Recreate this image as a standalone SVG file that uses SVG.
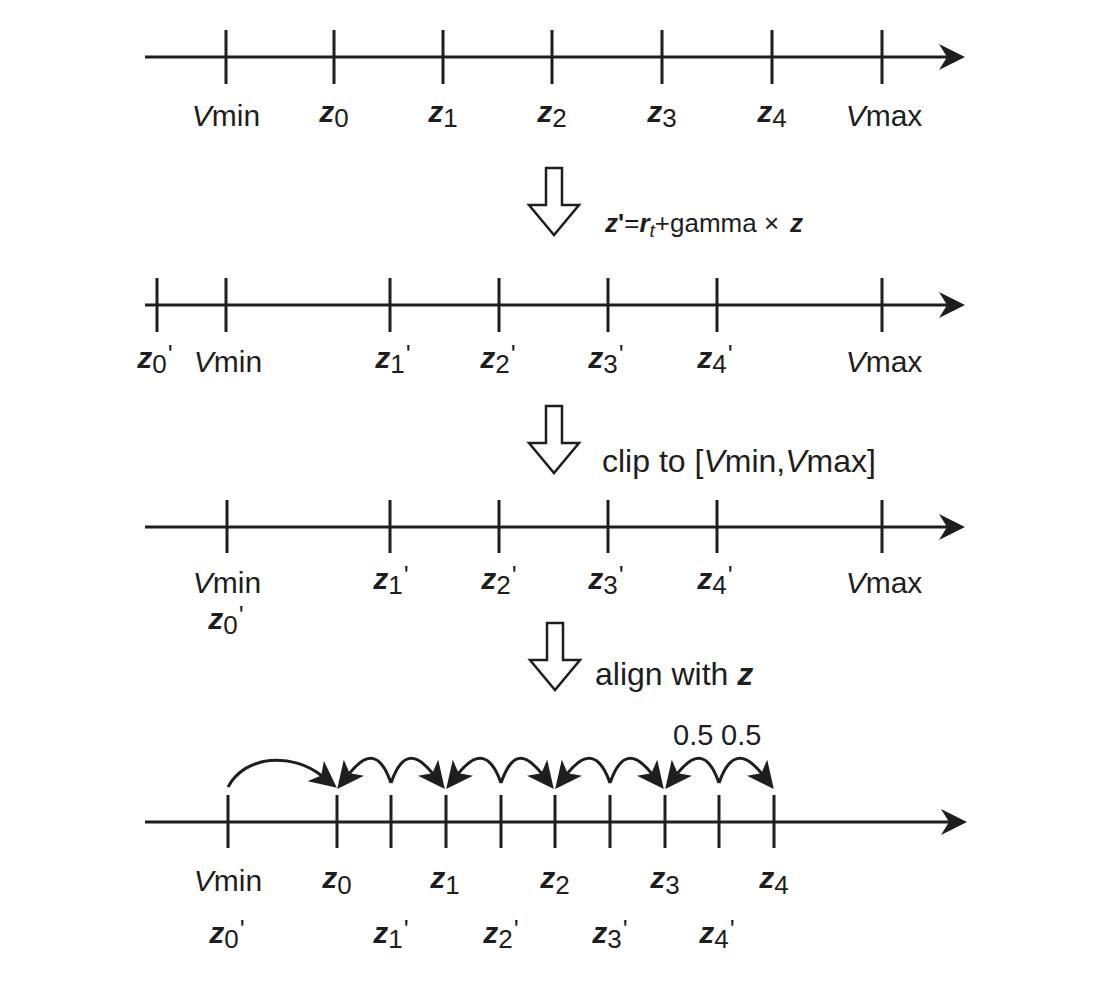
<svg xmlns="http://www.w3.org/2000/svg" width="1107" height="982" viewBox="0 0 1107 982">
<style>
.t{font-family:"Liberation Sans",Arial,Helvetica,sans-serif;fill:#1e1e1e}
.lb{font-size:30px}
.an{font-size:32px}
.zv{font-size:30px;font-weight:bold;font-style:italic}
.sb{font-size:26px}
.pr{font-size:26px}
.it{font-style:italic}
.ax{stroke:#1e1e1e;stroke-width:3;fill:none}
.tk{stroke:#1e1e1e;stroke-width:3}
.hol{fill:#fff;stroke:#1e1e1e;stroke-width:2.5;stroke-linejoin:miter}
.arc{fill:none;stroke:#1e1e1e;stroke-width:3}
</style>
<defs>
<marker id="axh" markerUnits="userSpaceOnUse" markerWidth="28" markerHeight="28" viewBox="0 0 28 28" refX="8" refY="14" orient="auto"><path d="M0,1 L26,14 L0,27 L8,14 Z" fill="#1e1e1e"/></marker>
<marker id="bh" markerUnits="userSpaceOnUse" markerWidth="28" markerHeight="26" viewBox="0 0 28 26" refX="8" refY="13" orient="auto"><path d="M0,0 L27,13 L0,26 L7,13 Z" fill="#1e1e1e"/></marker>
<path id="hollow" d="M-8,0 H8 V37 H25 L0,67 L-25,37 H-8 Z"/>
</defs>
<rect width="1107" height="982" fill="#fff"/>

<g id="axis1">
<line class="ax" x1="145" y1="57" x2="947" y2="57" marker-end="url(#axh)"/>
<path class="tk" d="M226,30V84M334,30V84M443,30V84M552,30V84M662,30V84M772,30V84M882,30V84"/>
<text class="t lb" x="226" y="126" text-anchor="middle"><tspan class="it">V</tspan>min</text>
<text class="t lb" x="334" y="126" text-anchor="middle"><tspan class="zv" dy="-4">z</tspan><tspan class="sb" dy="5">0</tspan></text>
<text class="t lb" x="443" y="126" text-anchor="middle"><tspan class="zv" dy="-4">z</tspan><tspan class="sb" dy="5">1</tspan></text>
<text class="t lb" x="552" y="126" text-anchor="middle"><tspan class="zv" dy="-4">z</tspan><tspan class="sb" dy="5">2</tspan></text>
<text class="t lb" x="662" y="126" text-anchor="middle"><tspan class="zv" dy="-4">z</tspan><tspan class="sb" dy="5">3</tspan></text>
<text class="t lb" x="772" y="126" text-anchor="middle"><tspan class="zv" dy="-4">z</tspan><tspan class="sb" dy="5">4</tspan></text>
<text class="t lb" x="884" y="126" text-anchor="middle"><tspan class="it">V</tspan>max</text>
</g>

<g id="step1">
<use href="#hollow" class="hol" transform="translate(554,168)"/>
<text class="t" x="605" y="232" font-size="26"><tspan font-weight="bold" font-style="italic">z</tspan><tspan font-weight="bold">'</tspan>=<tspan font-weight="bold" font-style="italic">r</tspan><tspan font-style="italic" font-size="19" dy="5">t</tspan><tspan dy="-5">+gamma ×</tspan><tspan x="790" font-weight="bold" font-style="italic">z</tspan></text>
</g>

<g id="axis2">
<line class="ax" x1="145" y1="305" x2="947" y2="305" marker-end="url(#axh)"/>
<path class="tk" d="M157,278V332M226,278V332M390,278V332M499,278V332M608,278V332M717,278V332M882,278V332"/>
<text class="t lb" x="155" y="372" text-anchor="middle"><tspan class="zv" dy="-4">z</tspan><tspan class="sb" dy="5">0</tspan><tspan class="pr" dx="1" dy="-10">'</tspan></text>
<text class="t lb" x="228" y="372" text-anchor="middle"><tspan class="it">V</tspan>min</text>
<text class="t lb" x="393" y="372" text-anchor="middle"><tspan class="zv" dy="-4">z</tspan><tspan class="sb" dy="5">1</tspan><tspan class="pr" dx="1" dy="-10">'</tspan></text>
<text class="t lb" x="498" y="372" text-anchor="middle"><tspan class="zv" dy="-4">z</tspan><tspan class="sb" dy="5">2</tspan><tspan class="pr" dx="1" dy="-10">'</tspan></text>
<text class="t lb" x="606" y="372" text-anchor="middle"><tspan class="zv" dy="-4">z</tspan><tspan class="sb" dy="5">3</tspan><tspan class="pr" dx="1" dy="-10">'</tspan></text>
<text class="t lb" x="715" y="372" text-anchor="middle"><tspan class="zv" dy="-4">z</tspan><tspan class="sb" dy="5">4</tspan><tspan class="pr" dx="1" dy="-10">'</tspan></text>
<text class="t lb" x="884" y="372" text-anchor="middle"><tspan class="it">V</tspan>max</text>
</g>

<g id="step2">
<use href="#hollow" class="hol" transform="translate(554,406)"/>
<text class="t an" x="602" y="472">clip to [<tspan class="it">V</tspan>min,<tspan class="it">V</tspan>max]</text>
</g>

<g id="axis3">
<line class="ax" x1="145" y1="527" x2="947" y2="527" marker-end="url(#axh)"/>
<path class="tk" d="M227,500V553M390,500V553M499,500V553M608,500V553M717,500V553M882,500V553"/>
<text class="t lb" x="227" y="593" text-anchor="middle"><tspan class="it">V</tspan>min</text>
<text class="t lb" x="226" y="633" text-anchor="middle"><tspan class="zv" dy="-4">z</tspan><tspan class="sb" dy="5">0</tspan><tspan class="pr" dx="1" dy="-10">'</tspan></text>
<text class="t lb" x="391" y="593" text-anchor="middle"><tspan class="zv" dy="-4">z</tspan><tspan class="sb" dy="5">1</tspan><tspan class="pr" dx="1" dy="-10">'</tspan></text>
<text class="t lb" x="499" y="593" text-anchor="middle"><tspan class="zv" dy="-4">z</tspan><tspan class="sb" dy="5">2</tspan><tspan class="pr" dx="1" dy="-10">'</tspan></text>
<text class="t lb" x="606" y="593" text-anchor="middle"><tspan class="zv" dy="-4">z</tspan><tspan class="sb" dy="5">3</tspan><tspan class="pr" dx="1" dy="-10">'</tspan></text>
<text class="t lb" x="715" y="593" text-anchor="middle"><tspan class="zv" dy="-4">z</tspan><tspan class="sb" dy="5">4</tspan><tspan class="pr" dx="1" dy="-10">'</tspan></text>
<text class="t lb" x="884" y="593" text-anchor="middle"><tspan class="it">V</tspan>max</text>
</g>

<g id="step3">
<use href="#hollow" class="hol" transform="translate(555,623)"/>
<text class="t an" x="595" y="685">align with <tspan font-weight="bold" font-style="italic">z</tspan></text>
</g>

<g id="axis4">
<line class="ax" x1="145" y1="822" x2="949" y2="822" marker-end="url(#axh)"/>
<path class="tk" d="M228,795V848M337,795V848M391,795V848M446,795V848M501,795V848M555,795V848M610,795V848M665,795V848M719,795V848M774,795V848"/>
<text class="t lb" x="228" y="891" text-anchor="middle"><tspan class="it">V</tspan>min</text>
<text class="t lb" x="337" y="891" text-anchor="middle"><tspan class="zv" dy="-3">z</tspan><tspan class="sb" dy="6">0</tspan></text>
<text class="t lb" x="445" y="891" text-anchor="middle"><tspan class="zv" dy="-3">z</tspan><tspan class="sb" dy="6">1</tspan></text>
<text class="t lb" x="555" y="891" text-anchor="middle"><tspan class="zv" dy="-3">z</tspan><tspan class="sb" dy="6">2</tspan></text>
<text class="t lb" x="665" y="891" text-anchor="middle"><tspan class="zv" dy="-3">z</tspan><tspan class="sb" dy="6">3</tspan></text>
<text class="t lb" x="774" y="891" text-anchor="middle"><tspan class="zv" dy="-3">z</tspan><tspan class="sb" dy="6">4</tspan></text>
<text class="t lb" x="227" y="947" text-anchor="middle"><tspan class="zv" dy="-4">z</tspan><tspan class="sb" dy="5">0</tspan><tspan class="pr" dx="1" dy="-10">'</tspan></text>
<text class="t lb" x="391" y="947" text-anchor="middle"><tspan class="zv" dy="-4">z</tspan><tspan class="sb" dy="5">1</tspan><tspan class="pr" dx="1" dy="-10">'</tspan></text>
<text class="t lb" x="501" y="947" text-anchor="middle"><tspan class="zv" dy="-4">z</tspan><tspan class="sb" dy="5">2</tspan><tspan class="pr" dx="1" dy="-10">'</tspan></text>
<text class="t lb" x="610" y="947" text-anchor="middle"><tspan class="zv" dy="-4">z</tspan><tspan class="sb" dy="5">3</tspan><tspan class="pr" dx="1" dy="-10">'</tspan></text>
<text class="t lb" x="717" y="947" text-anchor="middle"><tspan class="zv" dy="-4">z</tspan><tspan class="sb" dy="5">4</tspan><tspan class="pr" dx="1" dy="-10">'</tspan></text>
<text class="t" x="673" y="745" font-size="29">0.5</text>
<text class="t" x="721" y="745" font-size="29">0.5</text>
</g>

<g id="connectors">
<path class="arc" d="M228,787 C245,755 292,752 322,776" marker-end="url(#bh)"/>
<path class="arc" d="M391,783 C381,754 368,750 349,774" marker-end="url(#bh)"/>
<path class="arc" d="M391,783 C401,754 414,750 433,774" marker-end="url(#bh)"/>
<path class="arc" d="M501,783 C491,754 477,750 458,774" marker-end="url(#bh)"/>
<path class="arc" d="M501,783 C511,754 523,750 542,774" marker-end="url(#bh)"/>
<path class="arc" d="M610,783 C600,754 586,750 567,774" marker-end="url(#bh)"/>
<path class="arc" d="M610,783 C620,754 633,750 652,774" marker-end="url(#bh)"/>
<path class="arc" d="M719,783 C709,754 696,750 677,774" marker-end="url(#bh)"/>
<path class="arc" d="M719,783 C729,754 743,750 762,774" marker-end="url(#bh)"/>
</g>
</svg>
